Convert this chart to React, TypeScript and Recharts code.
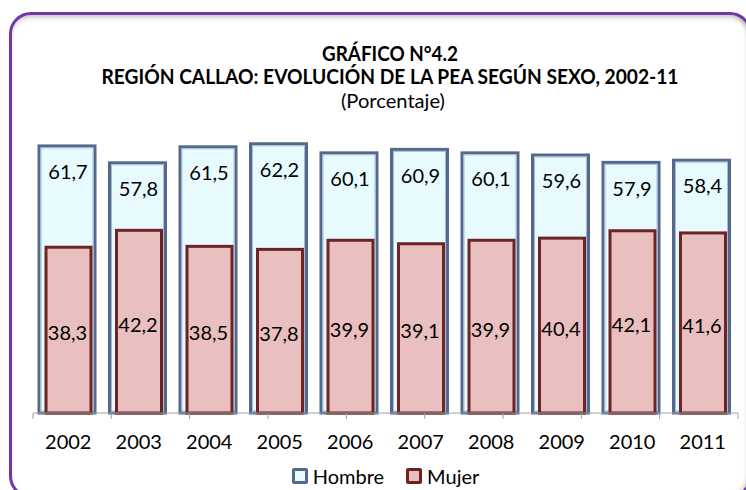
import React from 'react';
import { BarChart, Bar, XAxis, YAxis, Legend, LabelList } from 'recharts';

const years = ['2002', '2003', '2004', '2005', '2006', '2007', '2008', '2009', '2010', '2011'];
const hombre = [61.7, 57.8, 61.5, 62.2, 60.1, 60.9, 60.1, 59.6, 57.9, 58.4];
const mujer = [38.3, 42.2, 38.5, 37.8, 39.9, 39.1, 39.9, 40.4, 42.1, 41.6];
const boundaryTicks = [0, 1, 2, 3, 4, 5, 6, 7, 8, 9, 10];

const data = years.map((year, i) => ({ year, hombre: hombre[i], mujer: mujer[i] }));

const FONT = 'Lato, "Noto Sans", sans-serif';
const H_FILL = '#e7fbff';
const H_STROKE = '#52698c';
const M_FILL = '#e9bfbf';
const M_STROKE = '#6c2424';

const fmt = (v: any) => Number(v).toFixed(1).replace('.', ',');

const HombreShape = (p: any) => (
  <g>
    <rect x={p.x - 3} y={p.y} width={p.width} height={p.height} fill={H_FILL} stroke={H_STROKE} strokeWidth={3} />
    <rect x={p.x - 1} y={p.y + 2} width={Math.max(0, p.width - 4)} height={Math.max(0, p.height - 4)} fill="none" stroke="#a9bcd3" strokeWidth={1} />
  </g>
);

const MujerShape = (p: any) => (
  <rect x={p.x - 3} y={p.y} width={p.width} height={p.height} fill={M_FILL} stroke={M_STROKE} strokeWidth={3} />
);

const LegendContent = () => (
  <div style={{ height: 24, display: 'flex', justifyContent: 'center', alignItems: 'center', fontFamily: FONT, fontSize: 20, color: '#000' }}>
    <span style={{ display: 'inline-block', width: 10, height: 10, border: `3px solid ${H_STROKE}`, background: H_FILL, borderRadius: 2, marginRight: 5 }} />
    <span style={{ marginRight: 22 }}>Hombre</span>
    <span style={{ display: 'inline-block', width: 10, height: 10, border: `3px solid ${M_STROKE}`, background: M_FILL, borderRadius: 2, marginRight: 5 }} />
    <span>Mujer</span>
  </div>
);

export default function App() {
  return (
    <div style={{ position: 'fixed', left: 0, top: 0, width: 746, height: 490, overflow: 'hidden', background: '#fff' }}>
      <div
        style={{
          position: 'absolute',
          left: 9,
          top: 12,
          width: 743,
          height: 486,
          boxSizing: 'border-box',
          border: '3px solid #7236a8',
          borderRadius: 22,
          boxShadow: 'inset 0 4px 5px -1px rgba(0,0,0,0.18), inset -4px 0 4px -2px rgba(0,0,0,0.22)',
        }}
      />
      <svg width={746} height={490} style={{ position: 'absolute', left: 0, top: 0 }}>
        <text x={390} y={61} textAnchor="middle" fontFamily={FONT} fontWeight={700} fontSize={21} fill="#000" textLength={136} lengthAdjust="spacingAndGlyphs">
          GRÁFICO N°4.2
        </text>
        <text x={390} y={84} textAnchor="middle" fontFamily={FONT} fontWeight={700} fontSize={21} fill="#000" textLength={577} lengthAdjust="spacingAndGlyphs">
          REGIÓN CALLAO: EVOLUCIÓN DE LA PEA SEGÚN SEXO, 2002-11
        </text>
        <text x={393} y={108} textAnchor="middle" fontFamily={FONT} fontSize={20} fill="#000" textLength={104} lengthAdjust="spacingAndGlyphs">
          (Porcentaje)
        </text>
      </svg>
      <div style={{ position: 'absolute', left: 0, top: 0 }}>
        <BarChart width={746} height={490} data={data} margin={{ top: 110, right: 8, left: 33, bottom: 2 }} barGap={-49}>
          <XAxis
            xAxisId="b"
            dataKey="year"
            height={45}
            tickSize={0}
            tickLine={false}
            axisLine={false}
            tickMargin={16}
            tick={{ fill: '#000', stroke: 'none', fontSize: 20, fontFamily: FONT }}
            interval={0}
          />
          <XAxis
            xAxisId="a"
            type="number"
            domain={[0, 10]}
            allowDataOverflow
            ticks={boundaryTicks}
            tickFormatter={() => ''}
            height={6}
            tickSize={6}
            tickLine={{ stroke: '#a0a0a0' }}
            axisLine={{ stroke: '#a0a0a0' }}
          />
          <YAxis hide domain={[0, 70]} />
          <Legend verticalAlign="bottom" content={<LegendContent />} />
          <Bar xAxisId="b" dataKey="hombre" name="Hombre" barSize={56} fill={H_FILL} stroke={H_STROKE} shape={HombreShape} isAnimationActive={false}>
            <LabelList dataKey="hombre" position="insideTop" offset={19} dx={-2} formatter={fmt} fill="#000" stroke="none" fontSize={20} fontFamily={FONT} />
          </Bar>
          <Bar xAxisId="b" dataKey="mujer" name="Mujer" barSize={45} fill={M_FILL} stroke={M_STROKE} shape={MujerShape} isAnimationActive={false}>
            <LabelList dataKey="mujer" position="center" dx={-4} dy={3} formatter={fmt} fill="#000" stroke="none" fontSize={20} fontFamily={FONT} />
          </Bar>
        </BarChart>
      </div>
    </div>
  );
}
